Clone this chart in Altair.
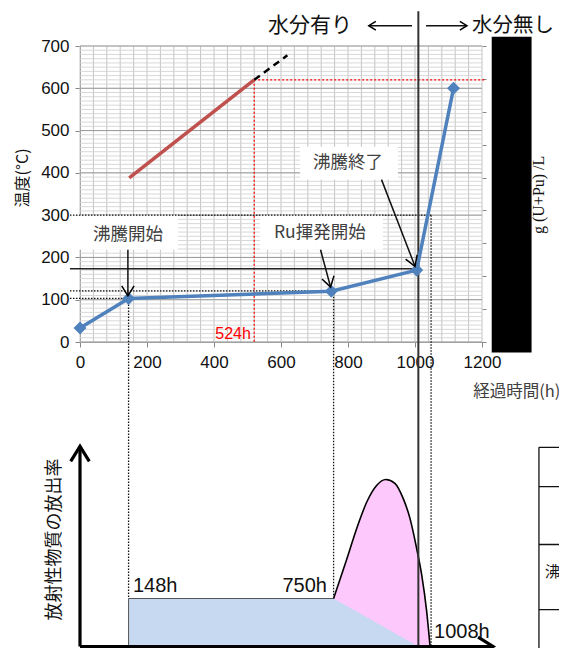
import math
import altair as alt
import pandas as pd

# ---------------- data ----------------
time_h = [0, 145, 750, 1005, 1115]
temp_c = [33, 103, 120, 170, 600]

red_time = [147, 520]
red_temp = [388, 620]
ext_time = [520, 619]
ext_temp = [620, 678]

x_ticks = [0, 200, 400, 600, 800, 1000, 1200]
y_ticks = [0, 100, 200, 300, 400, 500, 600, 700]
grid_x = list(range(0, 1201, 40))
grid_y_minor = list(range(0, 701, 10))
right_ticks = list(range(0, 10))

# bottom schematic: release rate (arbitrary units, 1 = plateau)
curve_time = [757, 794, 826, 856, 886, 913, 940, 965, 985, 1005, 1020, 1035, 1045]
curve_rate = [1.0, 1.77, 2.46, 3.01, 3.36, 3.48, 3.40, 3.08, 2.67, 2.04, 1.49, 0.72, 0.0]
blue_time = [145, 757, 1010]
blue_rate = [1.0, 1.0, 0.0]

# reference lines (time, temperature)
hdot_y = [300, 121, 103]
hdot_x1 = [-30, -30, -30]
hdot_x2 = [1048, 757, 145]
vdot_x = [145, 757, 1048]
vdot_top = [103, 121, 300]
vdot_rate = [1.0, 1.0, 0.0]
boil_line_y = 173
boil_end_x = 1010
red_mark_x = 520
red_mark_y = 620

# label boxes and annotations
box_x1 = [-30, 537, 657]
box_x2 = [293, 904, 949]
box_y1 = [218, 218, 384]
box_y2 = [300, 300, 462]
ann_text = ["沸騰開始", "Ru揮発開始", "沸騰終了"]
ann_x = [143, 716, 800]
ann_y = [253, 258, 423]
arr_x1 = [143, 718, 900]
arr_y1 = [218, 218, 384]
arr_x2 = [143, 748, 1000]
arr_y2 = [109, 130, 179]

# ---------------- layout ----------------
PLOT_W, PLOT_H = 402, 296
BASE_Y = -720.1      # bottom schematic baseline (in temperature units)
RATE_UNIT = 113.5    # temperature units per release-rate unit


def by(rate):
    return BASE_Y + rate * RATE_UNIT


def angle(x1, y1, x2, y2):
    dx = (x2 - x1) * PLOT_W / 1200
    dy = -(y2 - y1) * PLOT_H / 700
    return (math.degrees(math.atan2(-dx, dy)) + 360) % 360


NUM_FONT = "Liberation Sans"
JP_FONT = "Noto Sans CJK JP"

xs = alt.Scale(domain=[0, 1200], nice=False, zero=False)
ys = alt.Scale(domain=[0, 700], nice=False, zero=False)
xaxis = alt.Axis(values=x_ticks, format="d", grid=False, title=None, labelFont=NUM_FONT, labelFontSize=17,
                 labelColor="#111", tickSize=5, tickColor="#888", domainColor="#888",
                 labelPadding=7, labelFlush=False)
yaxis = alt.Axis(values=y_ticks, format="d", grid=False, title=None, labelFont=NUM_FONT, labelFontSize=17,
                 labelColor="#111", tickSize=5, tickColor="#888", domainColor="#888",
                 labelPadding=6)
X = alt.X("x:Q", scale=xs, axis=xaxis)
Y = alt.Y("y:Q", scale=ys, axis=yaxis)


def base(df):
    return alt.Chart(pd.DataFrame(df))


def rules(df, **kw):
    enc = {"x": X, "y": Y}
    if "x2" in df:
        enc["x2"] = alt.X2("x2:Q")
    if "y2" in df:
        enc["y2"] = alt.Y2("y2:Q")
    return base(df).mark_rule(clip=False, **kw).encode(**enc)


def text(x, y, s, **kw):
    return base({"x": [x], "y": [y], "t": [s]}).mark_text(clip=False, **kw).encode(x=X, y=Y, text="t:N")


ARROW = "M-0.62,-1L0,0L0.62,-1"


def heads(xl, yl, al, size, sw):
    return base({"x": xl, "y": yl, "a": al}).mark_point(
        shape=ARROW, filled=False, size=size, strokeWidth=sw, color="black", opacity=1, clip=False
    ).encode(x=X, y=Y, angle=alt.Angle("a:Q", scale=None))


layers = []
# grid
layers.append(rules({"x": grid_x, "y": [0] * len(grid_x), "y2": [700] * len(grid_x)}, color="#c4c4c4", strokeWidth=1))
layers.append(rules({"y": grid_y_minor, "x": [0] * len(grid_y_minor), "x2": [1200] * len(grid_y_minor)}, color="#d4d4d4", strokeWidth=0.9))
layers.append(rules({"y": y_ticks, "x": [0] * len(y_ticks), "x2": [1200] * len(y_ticks)}, color="#9a9a9a", strokeWidth=1))

# bottom schematic areas
pink = base({"x": curve_time, "y": [by(r) for r in curve_rate], "y2": [by(0)] * len(curve_time)})
layers.append(pink.mark_area(color="#fdc8fb", interpolate="monotone", clip=False).encode(x=X, y=Y, y2=alt.Y2("y2:Q")))
blue = base({"x": blue_time, "y": [by(r) for r in blue_rate], "y2": [by(0)] * len(blue_time)})
layers.append(blue.mark_area(color="#c6d9f1", clip=False).encode(x=X, y=Y, y2=alt.Y2("y2:Q")))
border = base({"x": [blue_time[0], blue_time[0], blue_time[1]], "y": [by(0), by(1), by(1)], "o": [0, 1, 2]})
layers.append(border.mark_line(color="#555", strokeWidth=1, clip=False).encode(x=X, y=Y, order="o:Q"))
layers.append(pink.mark_line(color="black", strokeWidth=1.6, interpolate="monotone", clip=False).encode(x=X, y=Y))

# white label boxes
layers.append(base({"x": box_x1, "x2": box_x2, "y": box_y1, "y2": box_y2}).mark_rect(color="white", clip=False)
              .encode(x=X, x2=alt.X2("x2:Q"), y=Y, y2=alt.Y2("y2:Q")))

# red dotted marker lines
layers.append(rules({"x": [red_mark_x], "y": [red_mark_y], "y2": [0]}, color="#ff0000", strokeWidth=1.2, strokeDash=[2, 2]))
layers.append(rules({"y": [red_mark_y], "x": [red_mark_x], "x2": [1212]}, color="#ff0000", strokeWidth=1.2, strokeDash=[2, 2]))

# black dotted guide lines
layers.append(rules({"y": hdot_y, "x": hdot_x1, "x2": hdot_x2}, color="#111", strokeWidth=1.3, strokeDash=[1.5, 1.5]))
layers.append(rules({"x": vdot_x, "y": vdot_top, "y2": [by(r) for r in vdot_rate]}, color="#111", strokeWidth=1.3, strokeDash=[1.5, 1.5]))

# solid guide lines
layers.append(rules({"y": [boil_line_y], "x": [-30], "x2": [1005]}, color="#222", strokeWidth=1.5))
layers.append(rules({"x": [boil_end_x], "y": [782], "y2": [-800]}, color="#333", strokeWidth=2))

# red line + dashed extension
layers.append(base({"x": red_time, "y": red_temp}).mark_line(color="#c0504d", strokeWidth=3.5, clip=False).encode(x=X, y=Y))
layers.append(base({"x": ext_time, "y": ext_temp}).mark_line(color="black", strokeWidth=2.5, strokeDash=[7, 5], clip=False).encode(x=X, y=Y))

# blue temperature curve
temp = base({"x": time_h, "y": temp_c})
layers.append(temp.mark_line(color="#4f81bd", strokeWidth=3.5, clip=False).encode(x=X, y=Y))
layers.append(temp.mark_point(shape="diamond", filled=True, size=170, color="#4f81bd", opacity=1, clip=False).encode(x=X, y=Y))

# annotation arrows
layers.append(rules({"x": arr_x1, "y": arr_y1, "x2": arr_x2, "y2": arr_y2}, color="#111", strokeWidth=1.5))
layers.append(heads(arr_x2, arr_y2, [angle(a, b, c, d) for a, b, c, d in zip(arr_x1, arr_y1, arr_x2, arr_y2)], 400, 1.5))
for s, x, y in zip(ann_text, ann_x, ann_y):
    layers.append(text(x, y, s, font=JP_FONT, fontSize=17.5, color="#404040", align="center", baseline="middle"))

layers.append(text(510, 19, "524h", font=NUM_FONT, fontSize=16, color="#ff0000", align="right", baseline="middle"))

# axis titles
layers.append(text(-170, 388, "温度(°C)", font=JP_FONT, fontSize=16, color="#111", angle=270, align="center", baseline="middle"))
layers.append(text(1304, -118, "経過時間(h)", font=JP_FONT, fontSize=16.5, color="#404040", align="center", baseline="middle"))

# top water labels
layers.append(text(561, 748, "水分有り", font=JP_FONT, fontSize=21, color="#111", align="left", baseline="middle"))
layers.append(text(1170, 748, "水分無し", font=JP_FONT, fontSize=20.5, color="#111", align="left", baseline="middle"))
layers.append(rules({"y": [748, 748], "x": [862, 1033], "x2": [991, 1155]}, color="#111", strokeWidth=1.5))
layers.append(heads([862, 1155], [748, 748], [90, 270], 200, 1.5))

# right black block + unit label
layers.append(base({"x": [1229], "x2": [1348], "y": [722], "y2": [-25]}).mark_rect(color="black", clip=False)
              .encode(x=X, x2=alt.X2("x2:Q"), y=Y, y2=alt.Y2("y2:Q")))
layers.append(text(1370, 348, "g (U+Pu) /L", font="Liberation Serif", fontSize=16, color="#111", angle=270, align="center", baseline="middle"))

# bottom schematic axes
layers.append(rules({"x": [0], "y": [by(0)], "y2": [by(4.17)]}, color="black", strokeWidth=3.2))
layers.append(rules({"y": [by(0)], "x": [0], "x2": [1231]}, color="black", strokeWidth=3.2))
layers.append(heads([0, 1233], [by(4.17), by(0)], [180, 270], 900, 3.2))
layers.append(text(-75, by(2.23), "放射性物質の放出率", font=JP_FONT, fontSize=18, color="#111", angle=270, align="center", baseline="middle"))
layers.append(text(158, by(1.27), "148h", font=NUM_FONT, fontSize=20, color="#111", align="left", baseline="middle"))
layers.append(text(737, by(1.27), "750h", font=NUM_FONT, fontSize=20, color="#111", align="right", baseline="middle"))
layers.append(text(1057, by(0.31), "1008h", font=NUM_FONT, fontSize=20, color="#111", align="left", baseline="middle"))

# table fragment on the right
layers.append(rules({"x": [1370], "y": [by(4.15)], "y2": [by(-0.3)]}, color="#111", strokeWidth=1.3))
layers.append(rules({"y": [by(4.15), by(3.33), by(2.125), by(0.77)], "x": [1370] * 4, "x2": [1500] * 4}, color="#111", strokeWidth=1.3))
layers.append(text(1388, by(1.56), "沸", font=JP_FONT, fontSize=15, color="#111", align="left", baseline="middle"))

main = alt.layer(*layers)

right_axis = base({"r": [0, 9]}).mark_point(opacity=0).encode(
    y=alt.Y("r:Q", scale=alt.Scale(domain=[0, 9], nice=False),
            axis=alt.Axis(orient="right", values=right_ticks, labels=False, tickSize=4,
                          tickColor="#888", domain=False, grid=False, title=None))
)

chart = alt.layer(main, right_axis).resolve_scale(y="independent").properties(
    width=PLOT_W, height=PLOT_H,
    autosize=alt.AutoSizeParams(type="none"),
    padding={"left": 72, "top": 38, "right": 77, "bottom": 306},
).configure_view(stroke=None)

chart.save("out.html", embed_options={"renderer": "svg", "actions": False})
